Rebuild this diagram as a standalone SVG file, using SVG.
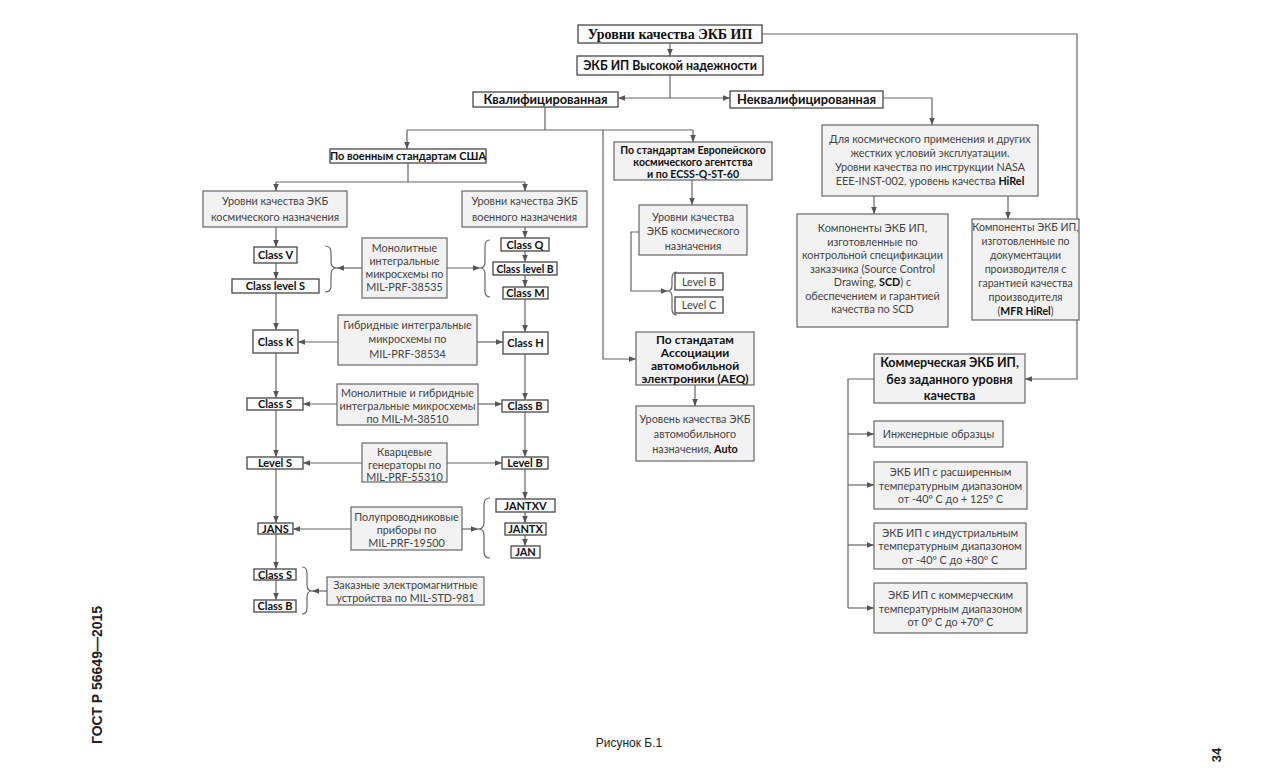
<svg xmlns="http://www.w3.org/2000/svg" width="1280" height="779" viewBox="0 0 1280 779">
<defs>
<marker id="a" viewBox="0 0 10 10" refX="10" refY="5" markerWidth="7" markerHeight="7" orient="auto" markerUnits="userSpaceOnUse"><path d="M0,1 L10,5 L0,9 z" fill="#555"/></marker>
</defs>
<style>
rect{fill:#f2f2f2;stroke:#666;stroke-width:1.2}
rect.w{fill:#fbfbfb;stroke:#555;stroke-width:1.4}
text{font-family:Lato,"Open Sans","Liberation Sans",sans-serif;font-size:10.8px;fill:#444;text-anchor:middle}
text.b{font-weight:bold;fill:#111}
text.k{font-weight:bold;fill:#111;font-size:11px}
text.s{font-family:"Liberation Serif",serif;font-size:14px;font-weight:bold;fill:#111}
.c path,.c line,.c polyline{fill:none;stroke:#666;stroke-width:1.2}
.c .m{marker-end:url(#a)}
.p{font-family:"Liberation Sans",Arial,sans-serif;fill:#222}
</style>
<rect x="0" y="0" width="1280" height="779" style="fill:#fff;stroke:none"/>

<g class="c" id="connectors">
<line class="m" x1="670" y1="43" x2="670" y2="56"/>
<polyline class="m" points="762,34 1077,34 1077,379 1025,379"/>
<line x1="670" y1="75" x2="670" y2="98"/>
<line class="m" x1="670" y1="98" x2="618" y2="98"/>
<line class="m" x1="670" y1="98" x2="730" y2="98"/>
<polyline class="m" points="883,98 932,98 932,125"/>
<line x1="545" y1="107" x2="545" y2="130"/>
<line x1="407" y1="130" x2="693" y2="130"/>
<line class="m" x1="407" y1="130" x2="407" y2="149"/>
<line class="m" x1="693" y1="130" x2="693" y2="142"/>
<polyline class="m" points="603,130 603,359 636,359"/>
<line x1="408" y1="163" x2="408" y2="182"/>
<line x1="276" y1="182" x2="525" y2="182"/>
<line class="m" x1="276" y1="182" x2="276" y2="191"/>
<line class="m" x1="525" y1="182" x2="525" y2="191"/>
<line class="m" x1="276" y1="227" x2="276" y2="247"/>
<line class="m" x1="276" y1="263" x2="276" y2="279"/>
<line class="m" x1="276" y1="293" x2="276" y2="330"/>
<line class="m" x1="276" y1="353" x2="276" y2="398"/>
<line class="m" x1="276" y1="410" x2="276" y2="457"/>
<line class="m" x1="276" y1="469" x2="276" y2="523"/>
<line class="m" x1="276" y1="534" x2="276" y2="569"/>
<line class="m" x1="276" y1="580" x2="276" y2="600"/>
<line class="m" x1="525" y1="227" x2="525" y2="238"/>
<line class="m" x1="525" y1="251" x2="525" y2="262"/>
<line class="m" x1="525" y1="275" x2="525" y2="287"/>
<line class="m" x1="525" y1="299" x2="525" y2="332"/>
<line class="m" x1="525" y1="354" x2="525" y2="400"/>
<line class="m" x1="525" y1="412" x2="525" y2="457"/>
<line class="m" x1="525" y1="469" x2="525" y2="499"/>
<line class="m" x1="525" y1="512" x2="525" y2="523"/>
<line class="m" x1="525" y1="535" x2="525" y2="546"/>
<line class="m" x1="362" y1="268" x2="337" y2="268"/>
<line class="m" x1="447" y1="268" x2="480" y2="268"/>
<line class="m" x1="338" y1="342" x2="298" y2="342"/>
<line class="m" x1="477" y1="342" x2="503" y2="342"/>
<line class="m" x1="337" y1="404" x2="303" y2="404"/>
<line class="m" x1="478" y1="404" x2="502" y2="404"/>
<line class="m" x1="362" y1="463" x2="303" y2="463"/>
<line class="m" x1="447" y1="463" x2="502" y2="463"/>
<line class="m" x1="351" y1="529" x2="293" y2="529"/>
<line class="m" x1="462" y1="529" x2="478" y2="529"/>
<line class="m" x1="327" y1="591" x2="312" y2="591"/>
<line class="m" x1="692" y1="180" x2="692" y2="205"/>
<polyline class="m" points="639,232 631,232 631,291 668,291"/>
<line class="m" x1="695" y1="385" x2="695" y2="406"/>
<line class="m" x1="874" y1="196" x2="874" y2="214"/>
<line class="m" x1="1008" y1="196" x2="1008" y2="219"/>
<polyline points="874,379 848,379 848,608"/>
<line class="m" x1="848" y1="434" x2="874" y2="434"/>
<line class="m" x1="848" y1="485" x2="874" y2="485"/>
<line class="m" x1="848" y1="545" x2="874" y2="545"/>
<line class="m" x1="848" y1="608" x2="874" y2="608"/>
<path d="M325,246 Q331,246 331,252 L331,262 Q331,268 337,268 Q331,268 331,274 L331,286 Q331,292 325,292"/>
<path d="M490,240 Q485,240 485,246 L485,262 Q485,268 480,268 Q485,268 485,274 L485,291 Q485,297 490,297"/>
<path d="M490,498 Q484,498 484,504 L484,523 Q484,529 478,529 Q484,529 484,535 L484,552 Q484,558 490,558"/>
<path d="M302,567 Q307,567 307,573 L307,585 Q307,591 312,591 Q307,591 307,597 L307,608 Q307,614 302,614"/>
<path d="M677,272 Q672,272 672,278 L672,285 Q672,291 668,291 Q672,291 672,297 L672,309 Q672,315 677,315"/>
</g>

<g id="n_top"><rect class="w" x="578" y="25" width="184" height="18"/><text class="s" x="670" y="39">Уровни качества ЭКБ ИП</text></g>
<g id="n_high"><rect class="w" x="577" y="56" width="186" height="19"/><text class="b" x="670" y="70" style="font-size:12.3px">ЭКБ ИП Высокой надежности</text></g>
<g id="n_qual"><rect class="w" x="473" y="92" width="145" height="15"/><text class="b" x="545.5" y="104" style="font-size:12.8px">Квалифицированная</text></g>
<g id="n_nonqual"><rect class="w" x="730" y="91" width="153" height="17"/><text class="b" x="806.5" y="104" style="font-size:12.8px">Неквалифицированная</text></g>
<g id="n_usmil"><rect class="w" x="330" y="149" width="156" height="14"/><text class="b" x="408" y="160" style="font-size:11px">По военным стандартам США</text></g>
<g id="n_space"><rect x="203" y="191" width="144" height="36"/><text x="275" y="205">Уровни качества ЭКБ<tspan x="275" y="221">космического назначения</tspan></text></g>
<g id="n_mil"><rect x="462" y="191" width="125" height="36"/><text x="524.5" y="205">Уровни качества ЭКБ<tspan x="524.5" y="221">военного назначения</tspan></text></g>
<g id="n_classV"><rect class="w" x="254" y="247" width="43" height="16"/><text class="k" x="275.5" y="259">Class V</text></g>
<g id="n_classLS"><rect class="w" x="232" y="279" width="87" height="14"/><text class="k" x="275.5" y="290">Class level S</text></g>
<g id="n_m38535"><rect x="362" y="238" width="85" height="60"/><text x="404.5" y="252">Монолитные<tspan x="404.5" y="265">интегральные</tspan><tspan x="404.5" y="278">микросхемы по</tspan><tspan x="404.5" y="291">MIL-PRF-38535</tspan></text></g>
<g id="n_classQ"><rect class="w" x="501" y="238" width="48" height="13"/><text class="k" x="525" y="248.5">Class Q</text></g>
<g id="n_classLB"><rect class="w" x="493" y="262" width="64" height="13"/><text class="k" x="525" y="272.5" style="font-size:10.4px">Class level B</text></g>
<g id="n_classM"><rect class="w" x="503" y="287" width="45" height="12"/><text class="k" x="525.5" y="297">Class M</text></g>
<g id="n_classK"><rect class="w" x="253" y="330" width="45" height="23"/><text class="k" x="275.5" y="345.5">Class K</text></g>
<g id="n_m38534"><rect x="338" y="315" width="139" height="50"/><text x="407.5" y="329">Гибридные интегральные<tspan x="407.5" y="343">микросхемы по</tspan><tspan x="407.5" y="358">MIL-PRF-38534</tspan></text></g>
<g id="n_classH"><rect class="w" x="503" y="332" width="45" height="22"/><text class="k" x="525.5" y="347">Class H</text></g>
<g id="n_classS"><rect class="w" x="247" y="398" width="56" height="12"/><text class="k" x="275" y="408">Class S</text></g>
<g id="n_m38510"><rect x="337" y="384" width="141" height="41"/><text x="407.5" y="397">Монолитные и гибридные<tspan x="407.5" y="410">интегральные микросхемы</tspan><tspan x="407.5" y="423">по MIL-M-38510</tspan></text></g>
<g id="n_classB"><rect class="w" x="502" y="400" width="46" height="12"/><text class="k" x="525" y="410">Class B</text></g>
<g id="n_levelS"><rect class="w" x="247" y="457" width="56" height="12"/><text class="k" x="275" y="467">Level S</text></g>
<g id="n_m55310"><rect x="362" y="443" width="85" height="39"/><text x="404.5" y="456">Кварцевые<tspan x="404.5" y="468.5">генераторы по</tspan><tspan x="404.5" y="481">MIL-PRF-55310</tspan></text></g>
<g id="n_levelB"><rect class="w" x="502" y="457" width="46" height="12"/><text class="k" x="525" y="467">Level B</text></g>
<g id="n_jans"><rect class="w" x="258" y="523" width="35" height="11"/><text class="k" x="275.5" y="532.5">JANS</text></g>
<g id="n_m19500"><rect x="351" y="507" width="111" height="43"/><text x="406.5" y="521">Полупроводниковые<tspan x="406.5" y="534">приборы по</tspan><tspan x="406.5" y="547">MIL-PRF-19500</tspan></text></g>
<g id="n_jantxv"><rect class="w" x="496" y="499" width="59" height="13"/><text class="k" x="525.5" y="509.5">JANTXV</text></g>
<g id="n_jantx"><rect class="w" x="505" y="523" width="41" height="12"/><text class="k" x="525.5" y="533">JANTX</text></g>
<g id="n_jan"><rect class="w" x="511" y="546" width="29" height="12"/><text class="k" x="525.5" y="556">JAN</text></g>
<g id="n_classS2"><rect class="w" x="254" y="569" width="42" height="11"/><text class="k" x="275" y="578.5">Class S</text></g>
<g id="n_classB2"><rect class="w" x="254" y="600" width="42" height="12"/><text class="k" x="275" y="610">Class B</text></g>
<g id="n_m981"><rect x="327" y="577" width="157" height="28"/><text x="405.5" y="589">Заказные электромагнитные<tspan x="405.5" y="602">устройства по MIL-STD-981</tspan></text></g>
<g id="n_esa"><rect x="614" y="142" width="158" height="38"/><text class="b" x="693" y="154" style="font-size:10.6px">По стандартам Европейского<tspan x="693" y="166">космического агентства</tspan><tspan x="693" y="178">и по ECSS-Q-ST-60</tspan></text></g>
<g id="n_esalev"><rect x="639" y="205" width="108" height="50"/><text x="693" y="221">Уровни качества<tspan x="693" y="235">ЭКБ космического</tspan><tspan x="693" y="250">назначения</tspan></text></g>
<g id="n_esaB"><rect class="w" x="675" y="273" width="48" height="17"/><text x="699" y="285.5">Level B</text></g>
<g id="n_esaC"><rect class="w" x="675" y="297" width="48" height="16"/><text x="699" y="309">Level C</text></g>
<g id="n_aeq"><rect x="636" y="332" width="118" height="53"/><text class="b" x="695" y="344" style="font-size:12px">По стандатам<tspan x="695" y="357">Ассоциации</tspan><tspan x="695" y="370">автомобильной</tspan><tspan x="695" y="383">электроники (AEQ)</tspan></text></g>
<g id="n_auto"><rect x="636" y="406" width="118" height="55"/><text x="695" y="423">Уровень качества ЭКБ<tspan x="695" y="438">автомобильного</tspan><tspan x="695" y="453">назначения, <tspan style="font-weight:bold;fill:#111">Auto</tspan></tspan></text></g>
<g id="n_hirel"><rect x="822" y="125" width="216" height="71"/><text x="930" y="143">Для космического применения и других<tspan x="930" y="157">жестких условий эксплуатации.</tspan><tspan x="930" y="171">Уровни качества по инструкции NASA</tspan><tspan x="930" y="185">EEE-INST-002, уровень качества <tspan style="font-weight:bold;fill:#111">HiRel</tspan></tspan></text></g>
<g id="n_scd"><rect x="797" y="214" width="151" height="113"/><text x="872.5" y="232">Компоненты ЭКБ ИП,<tspan x="872.5" y="245.5">изготовленные по</tspan><tspan x="872.5" y="259">контрольной спецификации</tspan><tspan x="872.5" y="272.5">заказчика (Source Control</tspan><tspan x="872.5" y="286">Drawing, <tspan style="font-weight:bold;fill:#111">SCD</tspan>) с</tspan><tspan x="872.5" y="299.5">обеспечением и гарантией</tspan><tspan x="872.5" y="313">качества по SCD</tspan></text></g>
<g id="n_mfr"><rect x="972" y="219" width="107" height="101"/><text x="1025.5" y="231" style="font-size:10.5px">Компоненты ЭКБ ИП,<tspan x="1025.5" y="245">изготовленные по</tspan><tspan x="1025.5" y="259">документации</tspan><tspan x="1025.5" y="272.5">производителя с</tspan><tspan x="1025.5" y="287">гарантией качества</tspan><tspan x="1025.5" y="301">производителя</tspan><tspan x="1025.5" y="315">(<tspan style="font-weight:bold;fill:#111">MFR HiRel</tspan>)</tspan></text></g>
<g id="n_comm"><rect x="874" y="354" width="151" height="49"/><text class="b" x="949.5" y="366.5" style="font-size:12.5px">Коммерческая ЭКБ ИП,<tspan x="949.5" y="383.5">без заданного уровня</tspan><tspan x="949.5" y="400">качества</tspan></text></g>
<g id="n_eng"><rect x="874" y="421" width="129" height="26"/><text x="938.5" y="437.5">Инженерные образцы</text></g>
<g id="n_ext"><rect x="874" y="462" width="153" height="47"/><text x="950.5" y="476">ЭКБ ИП с расширенным<tspan x="950.5" y="489.5">температурным диапазоном</tspan><tspan x="950.5" y="503">от -40º С до + 125º С</tspan></text></g>
<g id="n_ind"><rect x="874" y="523" width="152" height="46"/><text x="950" y="536.5">ЭКБ ИП с индустриальным<tspan x="950" y="550">температурным диапазоном</tspan><tspan x="950" y="563.5">от -40º С до +80º С</tspan></text></g>
<g id="n_com"><rect x="874" y="583" width="153" height="50"/><text x="950.5" y="599">ЭКБ ИП с коммерческим<tspan x="950.5" y="612.5">температурным диапазоном</tspan><tspan x="950.5" y="626">от 0º С до +70º С</tspan></text></g>

<text class="p" x="0" y="0" transform="translate(102,675) rotate(-90)" style="font-size:14px;font-weight:bold">ГОСТ Р 56649—2015</text>
<text class="p" x="629" y="747" style="font-size:12px">Рисунок Б.1</text>
<text class="p" x="0" y="0" transform="translate(1221,755) rotate(-90)" style="font-size:13px;font-weight:bold">34</text>
</svg>
